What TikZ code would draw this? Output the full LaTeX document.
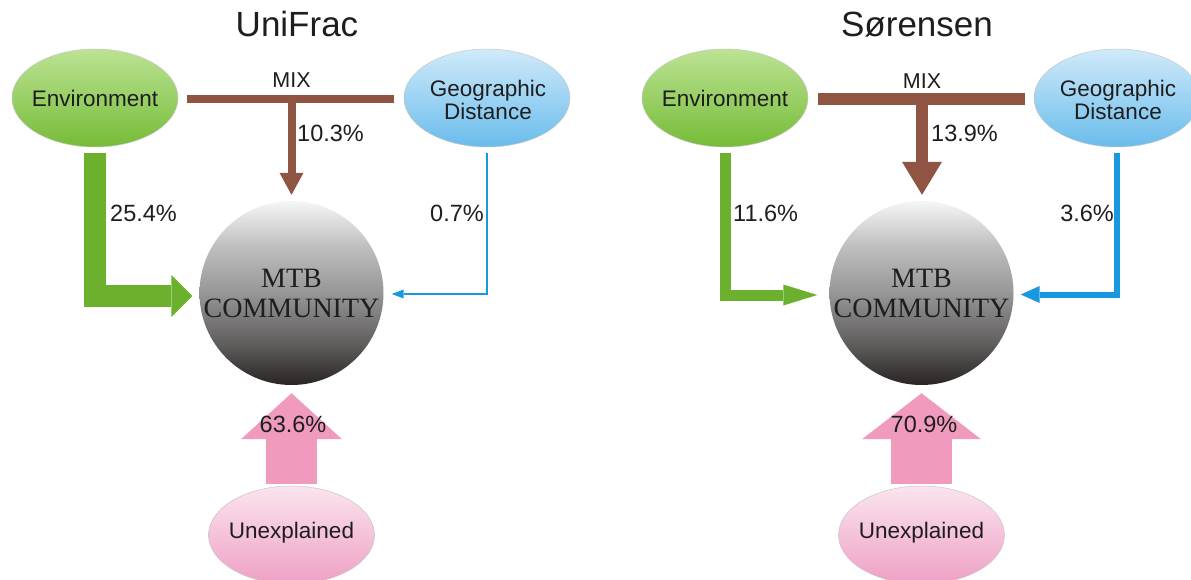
\documentclass[tikz,border=0pt]{standalone}
\usepackage{fontspec}
\setmainfont{Liberation Sans}
\newfontfamily\serifmtb{Liberation Serif}
\usetikzlibrary{arrows.meta,shapes.geometric,calc}

\definecolor{envtop}{RGB}{188,227,148}
\definecolor{envbot}{RGB}{118,188,55}
\definecolor{geotop}{RGB}{208,234,250}
\definecolor{geobot}{RGB}{105,188,236}
\definecolor{unxtop}{RGB}{251,228,238}
\definecolor{unxbot}{RGB}{238,160,196}
\definecolor{arrgreen}{RGB}{108,177,45}
\definecolor{arrbrown}{RGB}{143,84,66}
\definecolor{arrblue}{RGB}{24,152,222}
\definecolor{arrpink}{RGB}{240,155,190}
\definecolor{txt}{RGB}{30,30,30}
\definecolor{bz}{RGB}{42,36,36}
\definecolor{ba}{RGB}{95,92,92}
\definecolor{bb}{RGB}{150,150,150}
\definecolor{bc}{RGB}{192,192,192}
\definecolor{bd}{RGB}{246,246,246}
\pgfdeclareverticalshading{mtbball}{100bp}{color(0bp)=(bz); color(25bp)=(bz); color(36bp)=(ba); color(50bp)=(bb); color(63bp)=(bc); color(75bp)=(bd); color(100bp)=(bd)}

\tikzset{
  ovalshape/.style={ellipse, minimum width=166pt, minimum height=98pt, inner sep=0pt, draw=black!22, line width=0.5pt},
  envshape/.style={ovalshape, top color=envtop, bottom color=envbot},
  geoshape/.style={ovalshape, top color=geotop, bottom color=geobot},
  unxshape/.style={ovalshape, top color=unxtop, bottom color=unxbot},
  ballshape/.style={circle, minimum size=184pt, inner sep=0pt, shading=mtbball},
  balltext/.style={align=center, text=txt, inner sep=0pt, font=\serifmtb\fontsize{28}{30}\selectfont},
  lbl/.style={text=txt, inner sep=0pt, font=\fontsize{22.5}{23}\selectfont},
  mixlbl/.style={text=txt, inner sep=0pt, text height=0.716em, text depth=0pt, font=\fontsize{21.5}{22}\selectfont},
  pct/.style={text=txt, inner sep=0pt, text height=0.716em, text depth=0pt, font=\fontsize{23.5}{26}\selectfont},
  titlelbl/.style={text=txt, inner sep=0pt, text height=0.716em, text depth=0pt, font=\fontsize{35}{40}\selectfont},
}

\begin{document}
\begin{tikzpicture}[x=1pt,y=-1pt]
\fill[white] (0,0) rectangle (1191,580);
\useasboundingbox (0,0) rectangle (1191,580);

% ---------------- Left panel: UniFrac ----------------
\node[titlelbl] (titleL) at (297,33) {UniFrac};
\node[envshape] (envL) at (95,98) {};
\node[lbl] (envLt) at (envL) {Environment};
\node[geoshape] (geoL) at (487,98) {};
\node[lbl, align=center] (geoLt) at (488,99.5) {Geographic\\Distance};
\node[ballshape] (circL) at (291.5,293) {};
\node[balltext] (circLt) at (circL) {MTB\\COMMUNITY};
\node[unxshape] (unxL) at (291.5,535) {};
\coordinate (mixL) at (291.5,99);

\draw[arrbrown, line width=8pt] ([xshift=9pt,yshift=-1pt]envL.east) -- ([xshift=-10pt,yshift=-1pt]geoL.west);
\draw[arrbrown, line width=8pt, -{Triangle[width=24pt,length=22pt,line width=0pt]}] (mixL) -- ([yshift=6pt]circL.north);
\draw[arrgreen, line width=22pt, -{Triangle[width=42pt,length=21pt,line width=0pt]}] ([yshift=-6pt]envL.south) |- ([xshift=-7pt,yshift=-3pt]circL.west);
\draw[arrblue, line width=2.3pt, -{Triangle[width=9pt,length=12pt,line width=0pt]}] ([yshift=-6pt]geoL.south) |- ([xshift=8pt,yshift=-1pt]circL.east);
\draw[arrpink, line width=51pt, -{Triangle[width=101pt,length=46pt,line width=0pt]}] ([yshift=2pt]unxL.north) -- ([yshift=-8pt]circL.south);

\node[lbl, text height=0.716em, text depth=0pt] (unxLt) at (unxL) {Unexplained};
\node[mixlbl] (mixLt) at (291.5,84) {MIX};
\node[pct, anchor=west] (pL1) at (297,138) {10.3\%};
\node[pct, anchor=west] (pL2) at (110,218) {25.4\%};
\node[pct, anchor=east] (pL3) at (484,218) {0.7\%};
\node[pct] (pL4) at (293,429) {63.6\%};

% ---------------- Right panel: Sorensen ----------------
\node[titlelbl] (titleR) at (917,33) {Sørensen};
\node[envshape] (envR) at (725,98) {};
\node[lbl] (envRt) at (envR) {Environment};
\node[geoshape] (geoR) at (1117,98) {};
\node[lbl, align=center] (geoRt) at (1118,99.5) {Geographic\\Distance};
\node[ballshape] (circR) at (921.5,293) {};
\node[balltext] (circRt) at (circR) {MTB\\COMMUNITY};
\node[unxshape] (unxR) at (921.5,535) {};
\coordinate (mixR) at (922,99);

\draw[arrbrown, line width=12pt] ([xshift=10pt,yshift=-1pt]envR.east) -- ([xshift=-9pt,yshift=-1pt]geoR.west);
\draw[arrbrown, line width=12pt, -{Triangle[width=40pt,length=33pt,line width=0pt]}] (mixR) -- ([xshift=0.5pt,yshift=6pt]circR.north);
\draw[arrgreen, line width=11pt, -{Triangle[width=21pt,length=34pt,line width=0pt]}] ([yshift=-6pt]envR.south) |- ([xshift=-12pt,yshift=-2pt]circR.west);
\draw[arrblue, line width=6pt, -{Triangle[width=17pt,length=19pt,line width=0pt]}] ([yshift=-6pt]geoR.south) |- ([xshift=7pt,yshift=-1.5pt]circR.east);
\draw[arrpink, line width=61pt, -{Triangle[width=119pt,length=46pt,line width=0pt]}] ([yshift=2pt]unxR.north) -- ([yshift=-8pt]circR.south);

\node[lbl, text height=0.716em, text depth=0pt] (unxRt) at (unxR) {Unexplained};
\node[mixlbl] (mixRt) at (922,85) {MIX};
\node[pct, anchor=west] (pR1) at (931,138) {13.9\%};
\node[pct, anchor=west] (pR2) at (733,218) {11.6\%};
\node[pct, anchor=east] (pR3) at (1114,218) {3.6\%};
\node[pct] (pR4) at (924,429) {70.9\%};
\end{tikzpicture}
\end{document}
